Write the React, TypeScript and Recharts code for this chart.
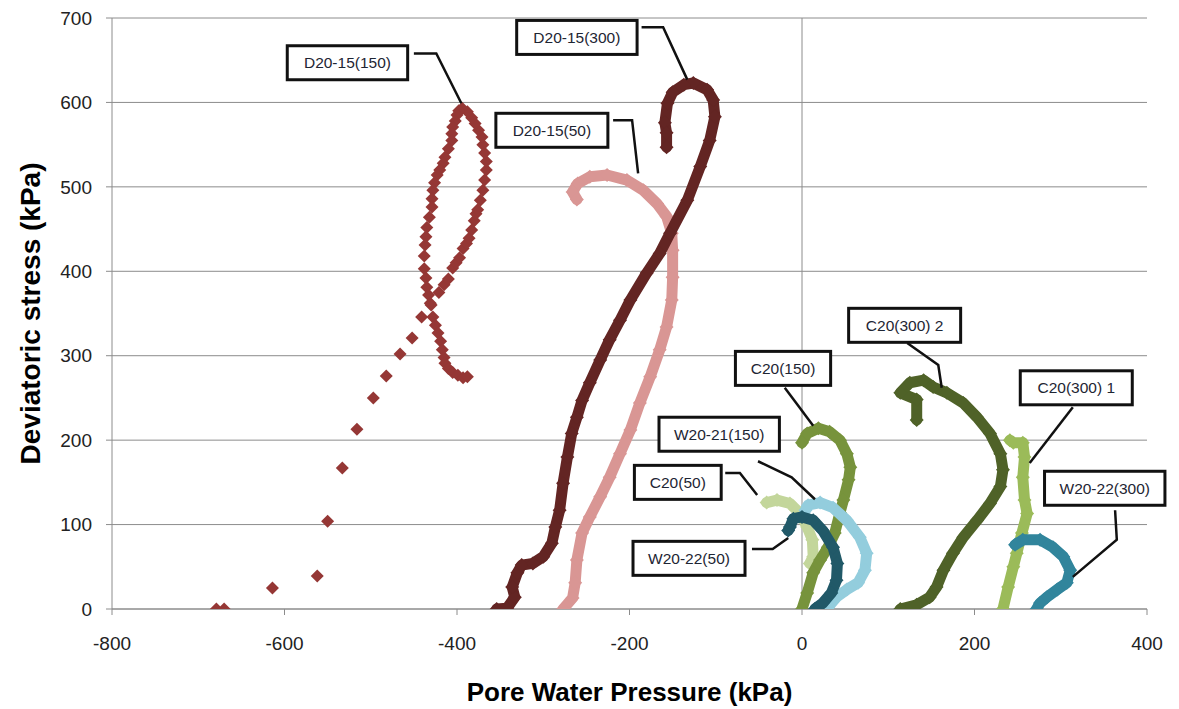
import React from 'react';
import {
  ScatterChart,
  Scatter,
  XAxis,
  YAxis,
  CartesianGrid,
  ReferenceLine,
  ReferenceDot,
} from 'recharts';

type Pt = { x: number; y: number };
const pts = (arr: number[][]): Pt[] => arr.map(([x, y]) => ({ x, y }));

// axis ticks
const xTicks = [-800, -600, -400, -200, 0, 200, 400];
const yTicks = [0, 100, 200, 300, 400, 500, 600, 700];

// D20-15(150) - separate markers only
const d150 = pts([
  [-679, 0], [-670, 0], [-614, 25], [-562, 39], [-550, 104], [-533, 167], [-516, 213],
  [-497, 250], [-482, 276], [-466, 302], [-452, 321], [-441, 346],
  [-430, 360], [-421, 375], [-415, 384], [-410, 391], [-405, 404], [-401, 410], [-397, 416],
  [-393, 427], [-389, 433], [-386, 439], [-383, 449], [-380, 460], [-378, 468], [-376, 473],
  [-373, 484], [-370, 496], [-368, 508], [-366, 520], [-366, 530], [-368, 540], [-370, 550],
  [-371, 559], [-375, 567], [-379, 575], [-383, 582], [-388, 589], [-394, 593], [-398, 590],
  [-400, 585], [-402, 578], [-405, 571], [-406, 563], [-406, 555], [-410, 545], [-414, 535],
  [-416, 528], [-420, 520], [-423, 514], [-426, 505], [-428, 496], [-429, 486], [-429, 476],
  [-432, 464], [-435, 452], [-436, 441], [-437, 431], [-438, 418], [-438, 403], [-436, 392],
  [-435, 381], [-433, 372], [-431, 362], [-428, 346], [-425, 336], [-422, 327], [-419, 317],
  [-417, 307], [-415, 298], [-414, 291], [-410, 285], [-405, 280], [-399, 277], [-393, 274],
  [-388, 275],
]);

// D20-15(300)
const d300 = pts([
  [-354, 0], [-342, 1], [-333, 14], [-336, 26], [-330, 43], [-325, 52], [-312, 54],
  [-300, 62], [-290, 78], [-286, 97], [-281, 117], [-277, 149], [-272, 180], [-267, 208],
  [-261, 227], [-255, 247], [-246, 268], [-234, 295], [-223, 319], [-211, 342], [-199, 366],
  [-180, 398], [-165, 421], [-153, 445], [-133, 484], [-118, 524], [-107, 555], [-101, 583],
  [-103, 603], [-110, 615], [-126, 623], [-137, 621], [-150, 612], [-156, 599], [-159, 576],
  [-157, 564], [-157, 547],
]);

// D20-15(50)
const d50 = pts([
  [-277, 0], [-266, 13], [-263, 31], [-261, 58], [-255, 90], [-246, 109], [-234, 133],
  [-223, 156], [-211, 184], [-199, 212], [-188, 244], [-176, 275], [-165, 307], [-157, 334],
  [-151, 366], [-150, 393], [-150, 425], [-151, 445], [-157, 465], [-168, 480], [-184, 496],
  [-203, 508], [-226, 514], [-246, 512], [-260, 504], [-266, 494], [-261, 485],
]);

// C20(50)
const c50 = pts([
  [-41, 126], [-29, 129], [-14, 125], [-2, 113], [6, 97], [12, 82], [13, 62], [9, 54],
]);

// C20(150)
const c150 = pts([
  [0, 0], [6, 19], [13, 43], [21, 58], [30, 73], [38, 90], [44, 114], [48, 129], [54, 153],
  [56, 168], [52, 184], [44, 200], [32, 210], [19, 214], [6, 208], [0, 197],
]);

// W20-21(150)
const w150 = pts([
  [4, 117], [7, 123], [21, 126], [36, 120], [52, 105], [67, 85], [75, 66], [73, 46],
  [65, 31], [52, 23], [40, 14], [30, 2], [24, 0],
]);

// W20-22(50)
const w50 = pts([
  [-16, 93], [-14, 97], [-10, 107], [0, 109], [13, 105], [24, 93], [36, 73], [41, 54],
  [40, 34], [34, 19], [24, 7], [15, 0],
]);

// C20(300) 1
const c300a = pts([
  [241, 200], [245, 197], [256, 197], [258, 180], [256, 156], [258, 129], [261, 113],
  [255, 90], [249, 66], [245, 50], [239, 26], [233, 0],
]);

// C20(300) 2
const c300b = pts([
  [114, 0], [133, 5], [148, 14], [156, 26], [164, 46], [175, 66], [187, 85], [203, 105],
  [218, 125], [230, 145], [233, 165], [230, 184], [218, 208], [203, 227], [187, 244],
  [168, 256], [152, 263], [141, 271], [125, 268], [114, 256], [133, 248], [133, 224],
]);

// W20-22(300)
const w300 = pts([
  [247, 76], [256, 82], [276, 82], [291, 73], [303, 62], [311, 46], [307, 31], [296, 23],
  [284, 14], [276, 7], [272, 0],
]);

// callout labels: box centre and leader line, in data units
const callouts = [
  { text: 'D20-15(150)', x: -527, y: 647, leader: [[-450, 658], [-424, 658], [-395, 599]] },
  { text: 'D20-15(300)', x: -261, y: 677, leader: [[-186, 689], [-161, 689], [-133, 627]] },
  { text: 'D20-15(50)', x: -290, y: 567, leader: [[-219, 579], [-197, 579], [-190, 516]] },
  { text: 'C20(300) 2', x: 119, y: 336, leader: [[122, 315], [158, 289], [162, 262]] },
  { text: 'C20(150)', x: -22, y: 285, leader: [[-20, 262], [13, 217]] },
  { text: 'C20(300) 1', x: 318, y: 262, leader: [[314, 239], [264, 173]] },
  { text: 'W20-21(150)', x: -96, y: 207, leader: [[-51, 175], [-12, 156], [15, 130]] },
  { text: 'C20(50)', x: -144, y: 150, leader: [[-89, 161], [-72, 161], [-52, 135]] },
  { text: 'W20-22(50)', x: -131, y: 60, leader: [[-58, 71], [-34, 71], [-16, 84]] },
  { text: 'W20-22(300)', x: 351, y: 143, leader: [[363, 117], [365, 82], [314, 38]] },
];

const series = [
  { name: 'D20-15(50)', data: d50, color: '#D99694' },
  { name: 'D20-15(300)', data: d300, color: '#632523' },
  { name: 'C20(50)', data: c50, color: '#C3D69B' },
  { name: 'C20(150)', data: c150, color: '#77933C' },
  { name: 'W20-21(150)', data: w150, color: '#93CDDD' },
  { name: 'W20-22(50)', data: w50, color: '#215968' },
  { name: 'C20(300) 2', data: c300b, color: '#4F6228' },
  { name: 'C20(300) 1', data: c300a, color: '#9BBB59' },
  { name: 'W20-22(300)', data: w300, color: '#31859C' },
];

const FONT = '"Liberation Sans", Arial, sans-serif';
const GRID = '#8c8c8c';

const diamond = (r: number) => (props: any) => {
  const { cx, cy, fill } = props;
  if (cx == null || cy == null) return <g />;
  return (
    <path
      d={`M${cx},${cy - r}L${cx + r},${cy}L${cx},${cy + r}L${cx - r},${cy}Z`}
      fill={fill}
    />
  );
};

const CalloutBox = ({ cx, cy, text }: { cx: number; cy: number; text: string }) => {
  const w = text.length * 8.4 + 28;
  const h = 34;
  return (
    <g>
      <rect
        x={cx - w / 2}
        y={cy - h / 2}
        width={w}
        height={h}
        fill="#fff"
        stroke="#111"
        strokeWidth={3}
      />
      <text
        x={cx}
        y={cy + 5.5}
        textAnchor="middle"
        fontSize={15.5}
        fontFamily={FONT}
        fill="#1e2533"
      >
        {text}
      </text>
    </g>
  );
};

export default function App() {
  return (
    <div style={{ position: 'absolute', left: 0, top: 0, background: '#fff' }}>
      <ScatterChart
        width={1179}
        height={709}
        margin={{ top: 18, right: 32, bottom: 0, left: 0 }}
      >
        <CartesianGrid horizontal vertical={false} stroke={GRID} />
        <XAxis
          type="number"
          dataKey="x"
          domain={[-800, 400]}
          ticks={xTicks}
          height={100}
          allowDataOverflow
          stroke={GRID}
          tickSize={6}
          tickMargin={22}
          tick={{ fill: '#222', fontSize: 19, fontFamily: FONT }}
          label={{
            value: 'Pore Water Pressure (kPa)',
            position: 'insideBottom',
            offset: 8,
            style: { fontSize: 26, fontWeight: 'bold', fill: '#000', fontFamily: FONT },
          }}
        />
        <YAxis
          type="number"
          dataKey="y"
          domain={[0, 700]}
          ticks={yTicks}
          width={112}
          allowDataOverflow
          stroke={GRID}
          tickSize={6}
          tickMargin={14}
          tick={{ fill: '#222', fontSize: 19, fontFamily: FONT }}
          label={{
            value: 'Deviatoric stress (kPa)',
            angle: -90,
            position: 'insideLeft',
            offset: 30,
            style: {
              fontSize: 28,
              fontWeight: 'bold',
              fill: '#000',
              fontFamily: FONT,
              textAnchor: 'middle',
            },
          }}
        />
        <ReferenceLine x={0} stroke={GRID} />
        <Scatter
          name="D20-15(150)"
          data={d150}
          fill="#953735"
          shape={diamond(6.5)}
          isAnimationActive={false}
        />
        {series.map((s) => (
          <Scatter
            key={s.name}
            name={s.name}
            data={s.data}
            fill={s.color}
            shape={diamond(7)}
            line={{ strokeWidth: 11, strokeLinejoin: 'round', strokeLinecap: 'round' }}
            lineType="joint"
            isAnimationActive={false}
          />
        ))}
        {callouts.map((c) => (
          <Scatter
            key={'leader-' + c.text}
            data={pts(c.leader)}
            fill="#111"
            shape={() => <g />}
            line={{ strokeWidth: 2.5 }}
            lineType="joint"
            isAnimationActive={false}
          />
        ))}
        {callouts.map((c) => (
          <ReferenceDot
            key={'box-' + c.text}
            x={c.x}
            y={c.y}
            ifOverflow="visible"
            shape={(p: any) => <CalloutBox cx={p.cx} cy={p.cy} text={c.text} />}
          />
        ))}
      </ScatterChart>
    </div>
  );
}
